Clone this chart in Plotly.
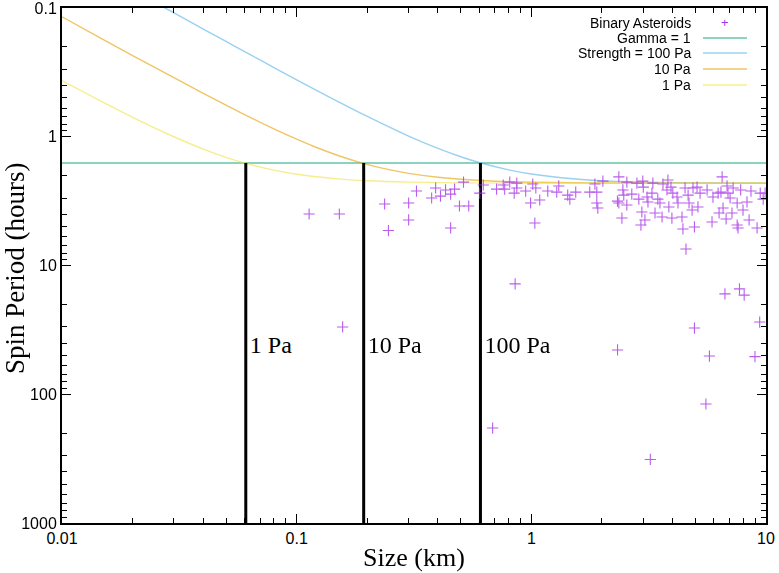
import plotly.graph_objects as go

# ---------------- data ----------------
# Binary asteroids: size (km), spin period (hours)
ast_size = [0.113, 0.152, 0.157, 0.237, 0.246, 0.300, 0.300, 0.324, 0.376, 0.391,
            0.410, 0.431, 0.453, 0.453, 0.471, 0.494, 0.541, 0.514, 0.603, 0.624,
            0.684, 0.711, 0.759, 0.770, 0.809, 0.853, 0.867, 0.867, 0.845, 0.946,
            1.014, 1.045, 0.993, 1.086, 1.035, 1.175, 1.283, 1.309, 1.429, 1.459,
            1.546, 1.774, 1.866, 1.901, 1.901, 1.920, 2.018, 2.328, 2.330, 2.360,
            2.360, 2.455, 2.477, 2.553, 2.553, 2.680, 2.432, 2.818, 2.871, 2.985,
            3.000, 2.958, 3.048, 2.931, 3.112, 3.141, 3.214, 3.266, 3.296, 3.365,
            3.459, 3.532, 3.606, 3.639, 3.784, 3.819, 3.855, 3.936, 3.972, 4.009,
            4.178, 4.217, 4.385, 4.426, 4.519, 4.560, 4.656, 4.699, 4.842, 4.887,
            4.955, 4.955, 5.082, 5.129, 5.236, 5.546, 5.610, 5.741, 5.888, 5.943,
            6.252, 6.310, 6.427, 6.501, 6.561, 6.683, 6.761, 6.823, 6.887, 7.031,
            7.161, 7.244, 7.534, 7.534, 7.603, 7.709, 7.800, 7.980, 8.072, 8.299,
            8.472, 8.630, 8.974, 9.162, 9.400, 9.450, 9.727, 9.908]
ast_period = [3.98, 3.98, 30.0, 3.33, 5.35, 3.27, 4.43, 2.64, 2.99, 2.50,
              2.89, 2.59, 2.79, 5.11, 2.55, 3.45, 3.45, 2.25, 2.74, 2.37,
              183.0, 2.55, 2.37, 2.55, 2.25, 13.9, 2.29, 2.50, 2.74, 2.64,
              2.33, 2.50, 3.27, 3.10, 4.68, 2.64, 2.69, 2.41, 2.84, 3.05,
              2.69, 2.69, 2.33, 2.69, 3.27, 3.58, 2.21, 3.16, 45.3, 2.05,
              3.27, 2.59, 2.84, 2.25, 3.39, 2.79, 4.28, 2.29, 3.05, 2.21,
              2.46, 3.84, 4.43, 4.85, 2.94, 3.21, 321.0, 2.74, 2.29, 3.91,
              3.05, 3.27, 4.20, 2.33, 2.59, 2.17, 3.51, 2.46, 4.28, 2.74,
              2.94, 3.27, 4.20, 5.20, 2.50, 7.45, 2.84, 3.27, 3.71, 2.50,
              5.02, 30.6, 2.46, 3.51, 2.74, 119.0, 2.59, 50.5, 4.59, 2.94,
              2.74, 3.91, 2.69, 2.05, 3.58, 16.6, 4.35, 2.41, 2.74, 2.99,
              3.91, 2.50, 3.27, 4.85, 5.11, 15.2, 2.59, 3.71, 17.0, 3.21,
              4.43, 2.64, 51.0, 5.11, 27.5, 2.74, 3.05, 2.74]

# Gamma = 1 spin limit (hours)
gamma_size = [0.01, 10]
gamma_period = [1.6, 1.6]

# Strength curves
s100_size = [0.02, 0.025, 0.03, 0.04, 0.05, 0.06, 0.08, 0.1, 0.15, 0.2, 0.3, 0.4,
             0.5, 0.6, 0.8, 1, 1.5, 2, 3, 5, 10]
s100_period = [0.073, 0.091, 0.109, 0.146, 0.182, 0.218, 0.290, 0.361, 0.533, 0.696,
               0.989, 1.233, 1.430, 1.586, 1.807, 1.946, 2.121, 2.194, 2.251, 2.282, 2.295]
s10_size = [0.01, 0.015, 0.02, 0.03, 0.04, 0.05, 0.06, 0.08, 0.1, 0.12, 0.15, 0.19,
            0.25, 0.3, 0.4, 0.5, 0.7, 1, 2, 5, 10]
s10_period = [0.117, 0.176, 0.234, 0.348, 0.460, 0.568, 0.673, 0.869, 1.045, 1.201,
              1.398, 1.601, 1.810, 1.926, 2.065, 2.141, 2.215, 2.257, 2.289, 2.298, 2.30]
s1_size = [0.01, 0.015, 0.02, 0.03, 0.04, 0.05, 0.06, 0.08, 0.1, 0.15, 0.2, 0.3,
           0.5, 1, 2, 5, 10]
s1_period = [0.366, 0.541, 0.706, 1.00, 1.247, 1.444, 1.599, 1.818, 1.955, 2.126,
             2.197, 2.252, 2.282, 2.296, 2.299, 2.30, 2.30]

# Vertical markers where each strength curve meets the Gamma = 1 limit
marker_size = [0.0607, 0.193, 0.607]
marker_labels = ["1 Pa", "10 Pa", "100 Pa"]
marker_top = 1.6
marker_bottom = 1000
label_period = 43

x_tickvals = [0.01, 0.1, 1, 10]
x_ticktext = ["0.01", "0.1", "1", "10"]
y_tickvals = [0.1, 1, 10, 100, 1000]
y_ticktext = ["0.1", "1", "10", "100", "1000"]

legend_names = ["Binary Asteroids", "Gamma = 1", "Strength = 100 Pa", "10 Pa", "1 Pa"]

# ---------------- styles ----------------
C_AST = "rgb(168,52,232)"
C_GAMMA = "#009e73"
C_100 = "#56b4e9"
C_10 = "#e69f00"
C_1 = "#f0e442"
LINE_OP = 0.6

fig = go.Figure()

for sx, sy, col in [(gamma_size, gamma_period, C_GAMMA),
                    (s100_size, s100_period, C_100),
                    (s10_size, s10_period, C_10),
                    (s1_size, s1_period, C_1)]:
    fig.add_trace(go.Scatter(x=sx, y=sy, mode="lines", line=dict(color=col, width=1.4, shape="spline"),
                             opacity=LINE_OP, showlegend=False, hoverinfo="skip"))

for d in marker_size:
    fig.add_trace(go.Scatter(x=[d, d], y=[marker_top, marker_bottom], mode="lines",
                             line=dict(color="black", width=3), showlegend=False, hoverinfo="skip"))

fig.add_trace(go.Scatter(x=ast_size, y=ast_period, mode="markers",
                         marker=dict(symbol="cross-thin", size=8, line=dict(color=C_AST, width=1.1)),
                         opacity=0.8, showlegend=False))

fig.add_trace(go.Scatter(x=[d * 1.04 for d in marker_size], y=[label_period] * 3, mode="text",
                         text=marker_labels, textposition="middle right",
                         textfont=dict(family="Liberation Serif", size=24, color="black"),
                         showlegend=False, hoverinfo="skip"))

# ---------------- manual legend (gnuplot style: text right, sample at right) ----------------
L, R, T, B = 62, 766, 8, 523
W, H = R - L, B - T
def px(xp):
    return (xp - L) / W
def py(yp):
    return (B - yp) / H

rows = [23, 38, 53, 69, 85]
line_cols = [None, C_GAMMA, C_100, C_10, C_1]
for name, ry, col in zip(legend_names, rows, line_cols):
    fig.add_annotation(x=px(693), y=py(ry), xref="paper", yref="paper", text=name,
                       showarrow=False, xanchor="right", yanchor="middle",
                       font=dict(family="Liberation Sans", size=14, color="black"))
    if col is None:
        fig.add_annotation(x=px(725), y=py(ry), xref="paper", yref="paper", text="+",
                           showarrow=False, xanchor="center", yanchor="middle",
                           font=dict(family="Liberation Sans", size=13, color=C_AST))
    else:
        fig.add_shape(type="line", xref="paper", yref="paper", x0=px(703), x1=px(747),
                      y0=py(ry), y1=py(ry), line=dict(color=col, width=1.4), opacity=LINE_OP)

# axis titles as annotations for exact placement
fig.add_annotation(x=0.5, y=py(557), xref="paper", yref="paper", text="Size (km)",
                   showarrow=False, xanchor="center", yanchor="middle",
                   font=dict(family="Liberation Serif", size=26, color="black"))
fig.add_annotation(x=px(15), y=py(268), xref="paper", yref="paper", text="Spin Period (hours)",
                   showarrow=False, xanchor="center", yanchor="middle", textangle=-90,
                   font=dict(family="Liberation Serif", size=27, color="black"))

axis_common = dict(type="log", showline=True, linecolor="black", linewidth=2, mirror="allticks",
                   ticks="inside", ticklen=9, tickwidth=1, tickcolor="black",
                   showgrid=False, zeroline=False, automargin=False, ticklabeloverflow="allow",
                   tickfont=dict(family="Liberation Sans", size=16, color="black"),
                   minor=dict(ticks="inside", ticklen=5, tickwidth=1, tickcolor="black",
                              showgrid=False, dtick="D1"))

fig.update_xaxes(**axis_common, range=[-2, 1], tickvals=x_tickvals, ticktext=x_ticktext)
fig.update_yaxes(**axis_common, range=[3, -1], tickvals=y_tickvals, ticktext=y_ticktext)

fig.update_layout(width=779, height=573, margin=dict(l=L, r=779 - R, t=T, b=573 - B),
                  paper_bgcolor="white", plot_bgcolor="white", showlegend=False)

fig.write_html("out.html", config={"displayModeBar": False},
               post_script="document.body.style.margin='0px';")
